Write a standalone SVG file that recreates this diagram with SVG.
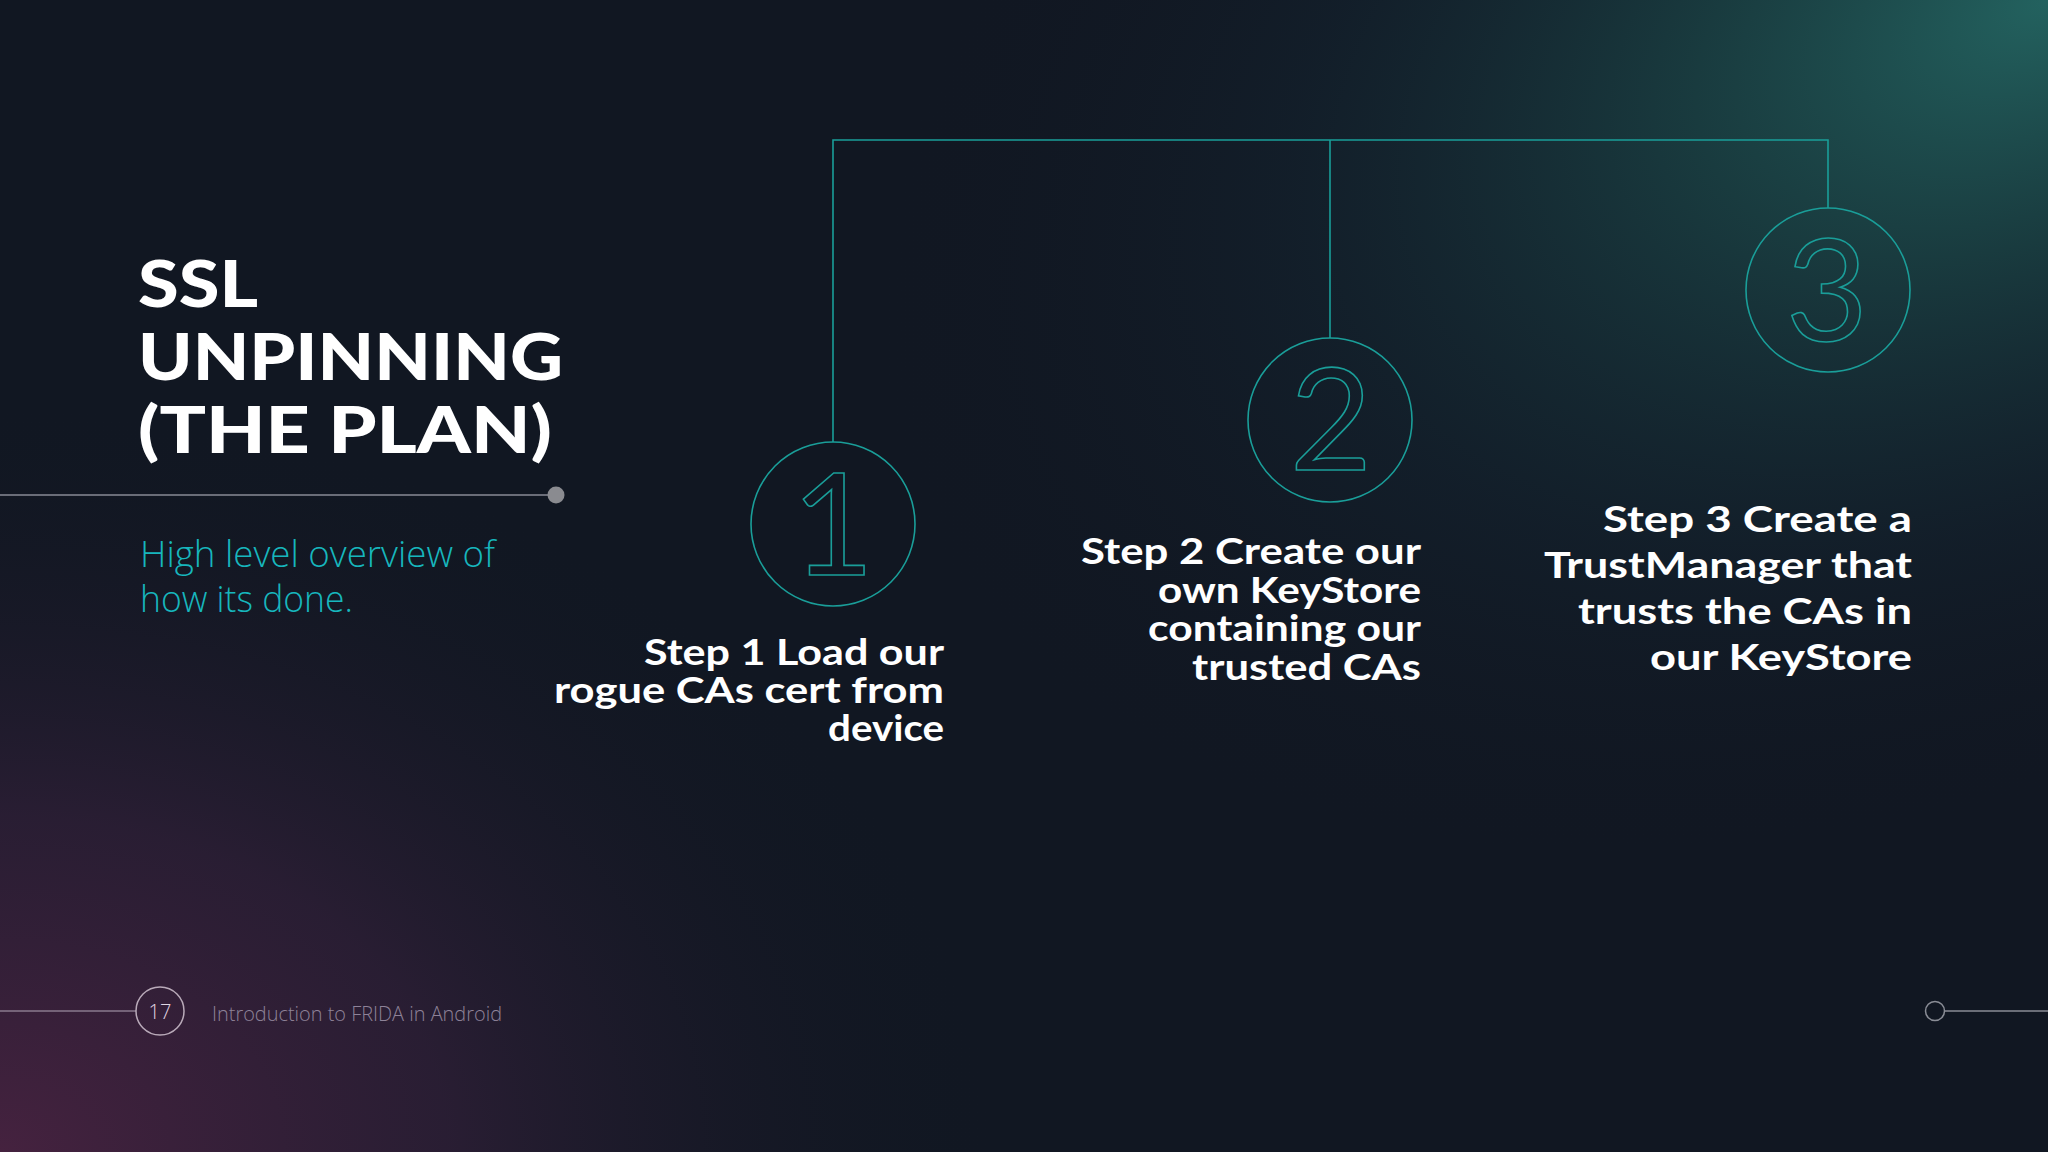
<svg xmlns="http://www.w3.org/2000/svg" width="2048" height="1152" viewBox="0 0 2048 1152">
  <defs>
    <radialGradient id="tealGlow" cx="2048" cy="0" r="1250" gradientUnits="userSpaceOnUse" gradientTransform="translate(2048 0) rotate(-25) scale(1 0.6) translate(-2048 0)">
      <stop offset="0" stop-color="#23625f" stop-opacity="1"/>
      <stop offset="0.3" stop-color="#1b4446" stop-opacity="0.8"/>
      <stop offset="0.65" stop-color="#142632" stop-opacity="0.45"/>
      <stop offset="1" stop-color="#111722" stop-opacity="0"/>
    </radialGradient>
    <radialGradient id="purpleGlow" cx="0" cy="1152" r="1000" gradientUnits="userSpaceOnUse" gradientTransform="translate(0 1152) scale(1 0.75) translate(0 -1152)">
      <stop offset="0" stop-color="#45223f" stop-opacity="1"/>
      <stop offset="0.45" stop-color="#33203a" stop-opacity="0.7"/>
      <stop offset="1" stop-color="#111722" stop-opacity="0"/>
    </radialGradient>
    <style>
      .teal { fill: none; stroke: #1a9e99; stroke-width: 1.6; }
      .digit { font-family: Lato, "Open Sans", sans-serif; font-size: 142px; font-weight: 400; fill: none; stroke: #1a9e99; stroke-width: 1.6; text-anchor: middle; }
      .title { font-family: Lato, "Liberation Sans", sans-serif; font-weight: 900; font-size: 64px; fill: #ffffff; }
      .sub { font-family: "Open Sans", "Liberation Sans", sans-serif; font-weight: 300; font-size: 37px; fill: #17b6bd; }
      .label { font-family: Lato, "Liberation Sans", sans-serif; font-weight: 700; font-size: 36px; fill: #ffffff; text-anchor: end; }
      .foot { font-family: "Open Sans", "Liberation Sans", sans-serif; font-weight: 300; }
    </style>
  </defs>

  <rect x="0" y="0" width="2048" height="1152" fill="#111722"/>
  <rect x="0" y="0" width="2048" height="1152" fill="url(#tealGlow)"/>
  <rect x="0" y="0" width="2048" height="1152" fill="url(#purpleGlow)"/>

  <g id="title">
    <text class="title" x="138" y="307" textLength="120" lengthAdjust="spacingAndGlyphs">SSL</text>
    <text class="title" x="138" y="380" textLength="425" lengthAdjust="spacingAndGlyphs">UNPINNING</text>
    <text class="title" x="138" y="453" textLength="414" lengthAdjust="spacingAndGlyphs">(THE PLAN)</text>
  </g>

  <g id="title-rule">
    <line x1="0" y1="495" x2="550" y2="495" stroke="#6a6d78" stroke-width="2"/>
    <circle cx="556" cy="495" r="8.5" fill="#8a8b90"/>
  </g>

  <g id="subtitle">
    <text class="sub" x="140" y="567" textLength="355" lengthAdjust="spacingAndGlyphs">High level overview of</text>
    <text class="sub" x="140" y="612" textLength="213" lengthAdjust="spacingAndGlyphs">how its done.</text>
  </g>

  <g id="connectors">
    <path class="teal" d="M833 442 V140 H1828 V208"/>
    <path class="teal" d="M1330 140 V338"/>
  </g>

  <g id="step1">
    <circle class="teal" cx="833" cy="524" r="82"/>
    <text class="digit" x="833" y="575">1</text>
    <text class="label" x="944" y="665" textLength="300" lengthAdjust="spacingAndGlyphs">Step 1 Load our</text>
    <text class="label" x="944" y="703" textLength="390" lengthAdjust="spacingAndGlyphs">rogue CAs cert from</text>
    <text class="label" x="944" y="741" textLength="116" lengthAdjust="spacingAndGlyphs">device</text>
  </g>

  <g id="step2">
    <circle class="teal" cx="1330" cy="420" r="82"/>
    <text class="digit" x="1331" y="470">2</text>
    <text class="label" x="1421" y="564" textLength="340" lengthAdjust="spacingAndGlyphs">Step 2 Create our</text>
    <text class="label" x="1421" y="603" textLength="263" lengthAdjust="spacingAndGlyphs">own KeyStore</text>
    <text class="label" x="1421" y="641" textLength="273" lengthAdjust="spacingAndGlyphs">containing our</text>
    <text class="label" x="1421" y="680" textLength="229" lengthAdjust="spacingAndGlyphs">trusted CAs</text>
  </g>

  <g id="step3">
    <circle class="teal" cx="1828" cy="290" r="82"/>
    <text class="digit" x="1827" y="341">3</text>
    <text class="label" x="1912" y="532" textLength="309" lengthAdjust="spacingAndGlyphs">Step 3 Create a</text>
    <text class="label" x="1912" y="578" textLength="368" lengthAdjust="spacingAndGlyphs">TrustManager that</text>
    <text class="label" x="1912" y="624" textLength="334" lengthAdjust="spacingAndGlyphs">trusts the CAs in</text>
    <text class="label" x="1912" y="670" textLength="262" lengthAdjust="spacingAndGlyphs">our KeyStore</text>
  </g>

  <g id="footer-left">
    <line x1="0" y1="1011" x2="136" y2="1011" stroke="#8a7a8e" stroke-width="1.5"/>
    <circle cx="160" cy="1011" r="24" fill="none" stroke="#b9aab9" stroke-width="1.5"/>
    <text class="foot" x="160" y="1019" font-size="20" fill="#e0d6e2" text-anchor="middle">17</text>
    <text class="foot" x="212" y="1021" font-size="21" fill="#8e8298" textLength="290" lengthAdjust="spacingAndGlyphs">Introduction to FRIDA in Android</text>
  </g>

  <g id="footer-right">
    <circle cx="1935" cy="1011" r="9.5" fill="none" stroke="#8a8d96" stroke-width="1.5"/>
    <line x1="1944.5" y1="1011" x2="2048" y2="1011" stroke="#8a8d96" stroke-width="1.5"/>
  </g>
</svg>
